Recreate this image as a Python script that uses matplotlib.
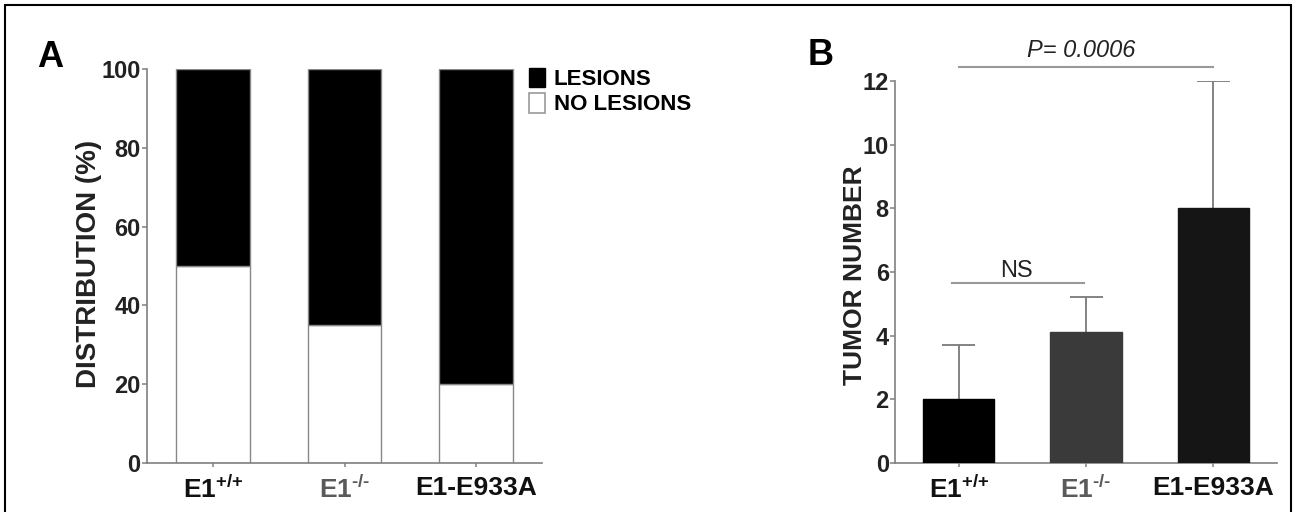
import matplotlib
matplotlib.use('Agg')
import matplotlib.pyplot as plt
from matplotlib.patches import Patch, Rectangle
import numpy as np

plt.rcParams['font.family'] = ['Liberation Sans', 'DejaVu Sans']
plt.rcParams['mathtext.fontset'] = 'custom'
plt.rcParams['mathtext.rm'] = 'Liberation Sans'
plt.rcParams['mathtext.bf'] = 'Liberation Sans:bold'

# data
groups = [r'$\mathbf{E1}^{\mathbf{+}\mathbf{/}\mathbf{+}}$',
          '$\\mathbf{E1}^{\\mathbf{\u2010/\u2010}}$',
          'E1-E933A']
group_colors = ['#111111', '#5a5a5a', '#111111']
no_lesions = [50, 35, 20]
lesions = [50, 65, 80]
tumor_mean = [2.0, 4.1, 8.0]
tumor_err_up = [1.7, 1.1, 4.0]
tumor_colors = ['#000000', '#3a3a3a', '#151515']
p_text = 'P= 0.0006'
ns_text = 'NS'

axis_gray = '#808080'
x = np.arange(len(groups))

fig = plt.figure(figsize=(12.94, 5.12), dpi=100)

# frame around the figure (bottom edge is cut off in the original)
fig.patches.append(Rectangle((0.004, -0.05), 0.994, 1.04, transform=fig.transFigure,
                             fill=False, edgecolor='black', linewidth=1.5))


def style_axes(ax):
    for s in ['top', 'right']:
        ax.spines[s].set_visible(False)
    for s in ['left', 'bottom']:
        ax.spines[s].set_color(axis_gray)
        ax.spines[s].set_linewidth(1.2)
    ax.tick_params(axis='y', length=3.5, width=1.1, color=axis_gray, pad=1,
                   labelsize=17, labelcolor='#222222')
    ax.tick_params(axis='x', length=3, width=1.1, color=axis_gray, pad=6,
                   labelsize=19)
    for lab in ax.get_yticklabels():
        lab.set_fontweight('bold')
    ax.set_xticks(x)
    ax.set_xticklabels(groups, fontweight='bold')
    for lab, c in zip(ax.get_xticklabels(), group_colors):
        lab.set_color(c)
    ax.set_xlim(-0.5, 2.5)


# ---- panel A
axA = fig.add_axes([0.1136, 0.0957, 0.3053, 0.7695])
axA.bar(x, no_lesions, width=0.56, color='white', edgecolor='#888888', linewidth=1.0,
        label='NO LESIONS')
axA.bar(x, lesions, width=0.56, bottom=no_lesions, color='black', edgecolor='#888888',
        linewidth=1.0, label='LESIONS')
axA.set_ylim(0, 100)
axA.set_yticks([0, 20, 40, 60, 80, 100])
style_axes(axA)
axA.set_ylabel('DISTRIBUTION (%)', fontsize=20, fontweight='bold', color='#222222')
axA.yaxis.set_label_coords(-0.114, 0.506)

handles = [Patch(facecolor='black', edgecolor='black'),
           Patch(facecolor='white', edgecolor='#999999', linewidth=1.2)]
axA.legend(handles, ['LESIONS', 'NO LESIONS'], loc='upper left',
           bbox_to_anchor=(0.409, 0.868), bbox_transform=fig.transFigure,
           frameon=False, prop={'weight': 'bold', 'size': 16},
           handlelength=0.7, handleheight=1.0, handletextpad=0.4,
           labelspacing=0.12, borderpad=0, borderaxespad=0)

fig.text(0.0286, 0.869, 'A', fontsize=26, fontweight='bold', ha='left', va='baseline')

# ---- panel B
axB = fig.add_axes([0.6917, 0.0957, 0.2952, 0.7461])
axB.bar(x, tumor_mean, width=0.56, color=tumor_colors, edgecolor=tumor_colors, zorder=3)
err_top = np.array(tumor_mean) + np.array(tumor_err_up)
axB.vlines(x, tumor_mean, err_top, colors='#7a7a7a', linewidth=1.3, zorder=2)
axB.hlines(err_top, x - 0.13, x + 0.13, colors='#7a7a7a', linewidth=1.3, zorder=2)
axB.set_ylim(0, 12)
axB.set_yticks([0, 2, 4, 6, 8, 10, 12])
style_axes(axB)
axB.set_ylabel('TUMOR NUMBER', fontsize=19, fontweight='bold', color='#222222')
axB.yaxis.set_label_coords(-0.073, 0.492)

# significance brackets
axB.plot([0, 2], [12.44, 12.44], color='#999999', linewidth=1.5, clip_on=False)
axB.text(0.96, 12.76, p_text, fontsize=17, fontstyle='italic', ha='center',
         va='baseline', color='#222222')
axB.plot([-0.05, 0.98], [5.65, 5.65], color='#999999', linewidth=1.5, clip_on=False)
axB.text(0.45, 5.83, ns_text, fontsize=17, ha='center', va='baseline', color='#222222')

fig.text(0.6244, 0.873, 'B', fontsize=26, fontweight='bold', ha='left', va='baseline')

fig.savefig('out.png', dpi=100)
